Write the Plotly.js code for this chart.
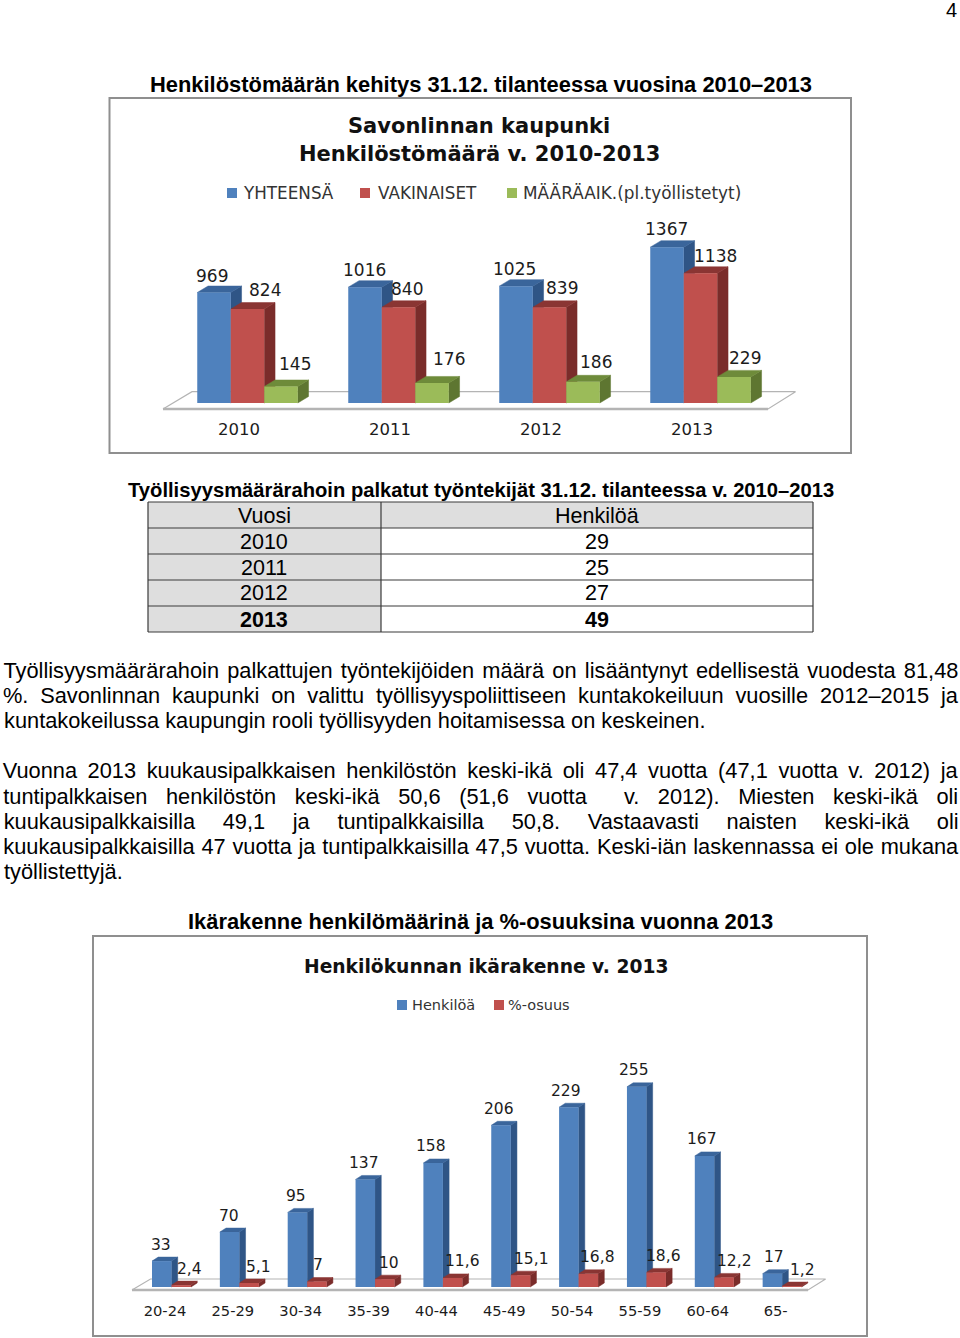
<!DOCTYPE html>
<html>
<head>
<meta charset="utf-8">
<script src="https://cdn.plot.ly/plotly-3.0.1.min.js"></script>
<style>html,body{margin:0;padding:0;background:#fff}#chart{width:960px;height:1338px}</style>
</head>
<body>
<div id="chart"></div>
<script>
// ---------- data ----------
const years = ['2010', '2011', '2012', '2013'];
const yhteensa = [969, 1016, 1025, 1367];
const vakinaiset = [824, 840, 839, 1138];
const maaraaik = [145, 176, 186, 229];

const ageGroups = ['20-24', '25-29', '30-34', '35-39', '40-44', '45-49', '50-54', '55-59', '60-64', '65-'];
const henkiloa = [33, 70, 95, 137, 158, 206, 229, 255, 167, 17];
const osuus = [2.4, 5.1, 7, 10, 11.6, 15.1, 16.8, 18.6, 12.2, 1.2];
const osuusLabels = ['2,4', '5,1', '7', '10', '11,6', '15,1', '16,8', '18,6', '12,2', '1,2'];

const tableHeader = ['Vuosi', 'Henkilöä'];
const tableYears = ['2010', '2011', '2012', '2013'];
const tablePersons = ['29', '25', '27', '49'];

const bodyLines = [
  ['Työllisyysmäärärahoin palkattujen työntekijöiden määrä on lisääntynyt edellisestä vuodesta 81,48', 670.3, true],
  ['%. Savonlinnan kaupunki on valittu työllisyyspoliittiseen kuntakokeiluun vuosille 2012–2015 ja', 695.5, true],
  ['kuntakokeilussa kaupungin rooli työllisyyden hoitamisessa on keskeinen.', 720.3, false],
  ['Vuonna 2013 kuukausipalkkaisen henkilöstön keski-ikä oli 47,4 vuotta (47,1 vuotta v. 2012) ja', 770.3, true],
  ['tuntipalkkaisen henkilöstön keski-ikä 50,6 (51,6 vuotta \u00a0v. 2012). Miesten keski-ikä oli', 796.3, true],
  ['kuukausipalkkaisilla 49,1 ja tuntipalkkaisilla 50,8. Vastaavasti naisten keski-ikä oli', 821.3, true],
  ['kuukausipalkkaisilla 47 vuotta ja tuntipalkkaisilla 47,5 vuotta. Keski-iän laskennassa ei ole mukana', 846.3, true],
  ['työllistettyjä.', 871.7, false]
];

// ---------- style ----------
const W = 960, H = 1338;
const BLUE = '#4F81BD', RED = '#C0504D', GREEN = '#9BBB59';
const BLUE_SIDE = '#2F5586', BLUE_TOP = '#3A659B';
const RED_SIDE = '#7A2C2A', RED_TOP = '#8A3533';
const GREEN_SIDE = '#5E7631', GREEN_TOP = '#6E8B3A';
const SANS = 'Liberation Sans, Arial, sans-serif';
const CHARTF = 'DejaVu Sans, sans-serif';
const INK = '#1c1c1c', FRAME = '#8f8f8f', FLOOR = '#b4b4b4';
const BODY = 21.8;

const px = v => v / W;
const py = v => 1 - v / H;

const traces = [], annotations = [], shapes = [];

function text(t, x, y, size, family, anchor, color) {
  annotations.push({xref: 'paper', yref: 'paper', x: px(x), y: py(y), text: t, showarrow: false,
    xanchor: anchor || 'center', yanchor: 'middle', align: anchor || 'center',
    font: {size, family, color: color || '#000'}, borderpad: 0, captureevents: false});
}
function rect(x0, y0, x1, y1, fill, line, lw) {
  shapes.push({type: 'rect', xref: 'paper', yref: 'paper', layer: 'below',
    x0: px(x0), x1: px(x1), y0: py(y0), y1: py(y1),
    fillcolor: fill, line: {color: line || fill, width: lw === undefined ? 0 : lw}});
}

// Builds a 3D-looking bar chart: faces on a base subplot, bar fronts on an overlay.
function chart3d(c) {
  const toX = p => (p - c.x0) / c.pitch;
  const toY = p => (c.y0 - p) / c.scale;
  const xr = [toX(c.left), toX(c.right)], yr = [toY(c.bottom), toY(c.top)];
  const w = c.barPx / c.pitch, dx = c.dxPx / c.pitch, dy = c.dyPx / c.scale;
  const n = c.series.length;
  // floor
  const f = c.floor;
  traces.push({type: 'scatter', mode: 'lines', xaxis: c.ids[0], yaxis: c.ids[1], hoverinfo: 'skip', showlegend: false,
    x: [f.fl, f.bl, f.br, f.fr, f.fl].map(toX), y: [f.fy, f.by, f.by, f.fy, f.fy].map(toY),
    fill: 'toself', fillcolor: '#fff', line: {color: FLOOR, width: 1.2}});
  traces.push({type: 'scatter', mode: 'lines', xaxis: c.ids[0], yaxis: c.ids[1], hoverinfo: 'skip', showlegend: false,
    x: [f.fl, f.fr].map(toX), y: [f.fy, f.fy].map(toY), line: {color: FLOOR, width: 2.6}});
  c.series.forEach((s, k) => {
    const side = {x: [], y: []}, top = {x: [], y: []};
    s.values.forEach((v, i) => {
      const a = i + (k - n / 2) * w, b = a + w;
      side.x.push(b, b + dx, b + dx, b, b, null);
      side.y.push(0, dy, v + dy, v, 0, null);
      top.x.push(a, a + dx, b + dx, b, a, null);
      top.y.push(v, v + dy, v + dy, v, v, null);
    });
    [[side, s.side], [top, s.topc]].forEach(([g, col]) => traces.push({
      type: 'scatter', mode: 'lines', xaxis: c.ids[0], yaxis: c.ids[1], hoverinfo: 'skip', showlegend: false,
      x: g.x, y: g.y, fill: 'toself', fillcolor: col, line: {color: col, width: 0.5}}));
  });
  c.series.forEach((s, k) => {
    traces.push({type: 'bar', name: s.name, x: s.values.map((_, i) => i), y: s.values,
      xaxis: c.ids[2], yaxis: c.ids[3], width: w, offset: (k - n / 2) * w,
      marker: {color: s.color, line: {width: 0}}, showlegend: false});
    s.values.forEach((v, i) => annotations.push({xref: c.ids[2], yref: c.ids[3], x: i + (k - n / 2 + 0.5) * w, y: v,
      text: s.labels ? s.labels[i] : String(v), showarrow: false, xanchor: 'center', yanchor: 'middle',
      xshift: s.sx[i], yshift: s.sy[i], font: {size: c.labelSize, family: CHARTF, color: INK}}));
  });
  const domX = [px(c.left), px(c.right)], domY = [py(c.bottom), py(c.top)];
  const tickShift = c.tickPx / c.pitch;
  const ax = {};
  ax[c.ax[0]] = {domain: domX, range: xr, anchor: c.ids[1], showgrid: false, zeroline: false, showline: false, ticks: '',
    tickmode: 'array', tickvals: c.cats.map((_, i) => i + tickShift), ticktext: c.cats, tickangle: 0,
    tickfont: {size: c.tickSize, family: CHARTF, color: INK}, fixedrange: true};
  ax[c.ax[1]] = {domain: domY, range: yr, anchor: c.ids[0], visible: false, fixedrange: true};
  ax[c.ax[2]] = {domain: domX, range: xr, anchor: c.ids[3], visible: false, overlaying: c.ids[0], fixedrange: true};
  ax[c.ax[3]] = {domain: domY, range: yr, anchor: c.ids[2], visible: false, overlaying: c.ids[1], fixedrange: true};
  return ax;
}

// ---------- first chart ----------
const ax1 = chart3d({
  ids: ['x', 'y', 'x2', 'y2'], ax: ['xaxis', 'yaxis', 'xaxis2', 'yaxis2'],
  cats: years, x0: 247.5, pitch: 151, y0: 403, scale: 0.114,
  left: 140, right: 820, top: 205, bottom: 417,
  barPx: 33.5, dxPx: 10.8, dyPx: 6.5, tickPx: -8.5, labelSize: 17, tickSize: 16.5,
  floor: {fl: 163, bl: 192, br: 795.5, fr: 768, fy: 409, by: 391.7},
  series: [
    {name: 'YHTEENSÄ', values: yhteensa, color: BLUE, side: BLUE_SIDE, topc: BLUE_TOP,
      sx: [-2, -1, -2, -1], sy: [17, 17, 17, 18]},
    {name: 'VAKINAISET', values: vakinaiset, color: RED, side: RED_SIDE, topc: RED_TOP,
      sx: [17.5, 8.5, 12.5, 14.5], sy: [19, 18, 19, 17]},
    {name: 'MÄÄRÄAIK.(pl.työllistetyt)', values: maaraaik, color: GREEN, side: GREEN_SIDE, topc: GREEN_TOP,
      sx: [14, 17, 13, 11], sy: [22, 24, 20, 19]}
  ]
});

// ---------- second chart ----------
const ax2 = chart3d({
  ids: ['x3', 'y3', 'x4', 'y4'], ax: ['xaxis3', 'yaxis3', 'xaxis4', 'yaxis4'],
  cats: ageGroups, x0: 171.5, pitch: 67.85, y0: 1287, scale: 0.785,
  left: 120, right: 845, top: 1040, bottom: 1300,
  barPx: 19.5, dxPx: 6.2, dyPx: 4, tickPx: -6.5, labelSize: 15.5, tickSize: 14.7,
  floor: {fl: 132, bl: 150.5, br: 825.6, fr: 808, fy: 1290, by: 1279},
  series: [
    {name: 'Henkilöä', values: henkiloa, color: BLUE, side: BLUE_SIDE, topc: BLUE_TOP,
      sx: [-1, -1, -1.5, -1.5, -2, -2, -3, -3, -3, 2], sy: henkiloa.map(() => 16.5)},
    {name: '%-osuus', values: osuus, labels: osuusLabels, color: RED, side: RED_SIDE, topc: RED_TOP,
      sx: [8, 9, 1, 4.5, 9.6, 11, 9, 7, 10, 11], sy: osuus.map(() => 16.5)}
  ]
});

// ---------- page text ----------
text('4', 951, 10.5, 20, SANS);
text('<b>Henkilöstömäärän kehitys 31.12. tilanteessa vuosina 2010–2013</b>', 480.5, 84.3, 21.9, SANS);
text('<b>Työllisyysmäärärahoin palkatut työntekijät 31.12. tilanteessa v. 2010–2013</b>', 480.5, 490, 20.2, SANS);
text('<b>Ikärakenne henkilömäärinä ja %-osuuksina vuonna 2013</b>', 480, 921.3, 21.9, SANS);
bodyLines.forEach(([t, y, just]) => {
  if (just) text(t, 480.5, y, BODY, SANS); else text(t, 3, y, BODY, SANS, 'left');
});

// ---------- frames, chart headings, legends ----------
rect(109.5, 98, 851, 453, '#fff', FRAME, 2);
rect(93, 936, 867, 1336, '#fff', FRAME, 2);
text('<b>Savonlinnan kaupunki</b>', 479, 125.7, 21, CHARTF, 'center', '#111');
text('<b>Henkilöstömäärä v. 2010-2013</b>', 479, 153.5, 21, CHARTF, 'center', '#111');
text('<b>Henkilökunnan ikärakenne v. 2013</b>', 486, 966, 18.7, CHARTF, 'center', '#111');
[[227, 242, 193, BLUE, 'YHTEENSÄ', 16.8], [360, 377, 193, RED, 'VAKINAISET', 16.8], [507, 522, 193, GREEN, 'MÄÄRÄAIK.(pl.työllistetyt)', 16.9],
 [397, 411, 1005, BLUE, 'Henkilöä', 14.5], [494, 507, 1005, RED, '%-osuus', 14.5]].forEach(([sq, tx, y, col, label, size]) => {
  rect(sq, y - 5, sq + 10, y + 5, col);
  text(label, tx, y, size, CHARTF, 'left', '#333');
});

// ---------- table ----------
const tableLeft = 148, tableSplit = 381, tableRight = 813, tableTop = 502, rowH = 26;
const cellLine = '#3a3a3a';
rect(tableLeft, tableTop, tableRight, tableTop + rowH, '#dedede');
tableYears.forEach((_, i) => rect(tableLeft, tableTop + (i + 1) * rowH, tableSplit, tableTop + (i + 2) * rowH, '#dedede'));
for (let i = 0; i <= tableYears.length + 1; i++) {
  shapes.push({type: 'line', xref: 'paper', yref: 'paper', x0: px(tableLeft), x1: px(tableRight),
    y0: py(tableTop + i * rowH), y1: py(tableTop + i * rowH), line: {color: cellLine, width: 1.2}});
}
[tableLeft, tableSplit, tableRight].forEach(x => shapes.push({type: 'line', xref: 'paper', yref: 'paper',
  x0: px(x), x1: px(x), y0: py(tableTop), y1: py(tableTop + rowH * (tableYears.length + 1)), line: {color: cellLine, width: 1.2}}));
const colA = 264, colB = 597;
text(tableHeader[0], colA, tableTop + rowH / 2 + 0.5, 21.5, SANS);
text(tableHeader[1], colB, tableTop + rowH / 2 + 0.5, 21.5, SANS);
tableYears.forEach((y, i) => {
  const bold = i === tableYears.length - 1;
  const ypx = tableTop + (i + 1.5) * rowH + 0.5;
  text(bold ? '<b>' + y + '</b>' : y, colA, ypx, 21.5, SANS);
  text(bold ? '<b>' + tablePersons[i] + '</b>' : tablePersons[i], colB, ypx, 21.5, SANS);
});

const layout = Object.assign({
  width: W, height: H, margin: {l: 0, r: 0, t: 0, b: 0}, paper_bgcolor: '#fff', plot_bgcolor: 'rgba(0,0,0,0)',
  barmode: 'overlay', showlegend: false, annotations, shapes, hovermode: false
}, ax1, ax2);

Plotly.newPlot('chart', traces, layout, {displayModeBar: false, staticPlot: true}).then(gd => {
  // Justify the body lines: stretch word spacing so each line spans the text column.
  const just = bodyLines.filter(l => l[2]).map(l => l[0]);
  gd.querySelectorAll('text.annotation-text').forEach(el => {
    const t = el.textContent;
    if (!just.includes(t)) return;
    const gaps = (t.match(/[ \u00a0]/g) || []).length;
    const extra = (955 - el.getComputedTextLength()) / gaps;
    el.style.wordSpacing = extra + 'px';
  });
});
</script>
</body>
</html>
